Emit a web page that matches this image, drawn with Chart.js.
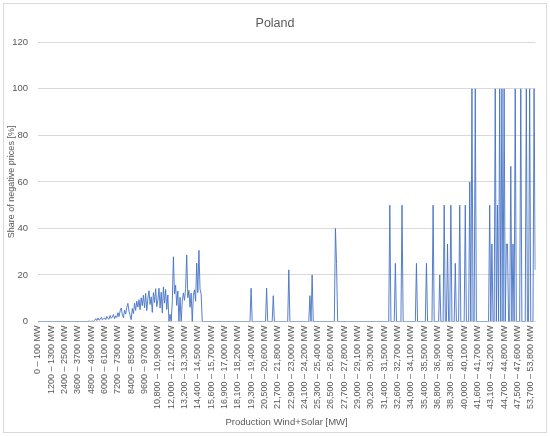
<!DOCTYPE html>
<html>
<head>
<meta charset="utf-8">
<script src="https://cdn.jsdelivr.net/npm/chart.js@4.4.1/dist/chart.umd.min.js"></script>
<style>
  html, body { margin: 0; padding: 0; background: #fff; }
  #wrap { width: 550px; height: 436px; position: relative; }
</style>
</head>
<body>
<div id="wrap"><canvas id="chart"></canvas></div>
<script>
// 100 MW production bins that appear in the data (start of first bin, start of last bin)
const binRuns = [
    [0, 16200], [16400, 28300], [28500, 33700], [34000, 35100], [35400, 36500],
    [36800, 37900], [38300, 39400], [40000, 41100], [41600, 42700], [43100, 44200],
    [44700, 45800], [47500, 48600], [53700, 54100]
];
const binSize = 100;
const tickEvery = 12;

// share of negative prices [%], one row per labelled group of 12 bins
const shareNegative = [
    0,0,0,0,0,0,0,0,0,0,0,0,
    0,0,0,0,0,0,0,0,0,0,0,0,
    0,0,0,0,0,0,0,0,0,0,0,0,
    0,0,0,0,0,0,0,0,0,0,0.2,0,
    0,0.3,0,0.5,1.2,0.4,1.5,0.6,0.9,1.8,0.7,1.1,
    1.6,0.8,2.2,1.3,1.0,2.6,1.4,1.9,3.0,1.2,2.4,1.7,
    3.8,2.1,4.6,5.8,2.9,1.6,4.9,3.2,6.1,7.8,4.4,2.6,
    0.8,5.6,3.4,7.9,4.8,8.7,6.2,9.4,5.1,10.2,6.8,11.3,
    5.9,12.1,4.7,9.8,13.2,7.3,10.6,3.9,12.4,8.2,14.1,6.4,
    9.2,14.3,5.8,12.6,3.7,14.9,7.9,13.8,5.2,11.4,0,3.1,
    0,8.4,27.8,11.9,15.6,6.9,13.1,0,10.4,0,8.8,12.3,
    9.1,14.2,28.6,10.2,13.4,6.1,12.2,0,11.3,13.6,8.7,25.1,
    12.4,30.6,13.8,11.9,0,0,0,0,0,0,0,0,
    0,0,0,0,0,0,0,0,0,0,0,0,
    0,0,0,0,0,0,0,0,0,0,0,0,
    0,0,0,0,0,0,0,0,0,0,0,0,
    14.3,0,0,0,0,0,0,0,0,0,0,0,
    0,0,14.3,0,0,0,0,0,11.1,0,0,0,
    0,0,0,0,0,0,0,0,0,0,22.2,0,
    0,0,0,0,0,0,0,0,0,0,0,0,
    0,0,0,0,0,11.1,0,20,0,0,0,0,
    0,0,0,0,0,0,0,0,0,0,0,0,
    0,0,0,0,40,25,0,0,0,0,0,0,
    0,0,0,0,0,0,0,0,0,0,0,0,
    0,0,0,0,0,0,0,0,0,0,0,0,
    0,0,0,0,0,0,0,0,0,0,0,0,
    0,0,0,0,0,50,0,0,0,0,25,0,
    0,0,0,0,50,0,0,0,0,0,0,0,
    0,0,0,0,0,25,0,0,0,0,0,0,
    0,0,25,0,0,0,0,0,50,0,0,0,
    0,0,20,0,0,0,50,0,0,33.3,0,0,
    50,0,0,0,25,0,0,0,50,0,0,0,
    0,50,0,0,0,60,0,100,0,0,100,0,
    0,0,0,0,0,0,0,0,0,0,0,50,
    0,33.3,0,0,100,0,50,0,100,0,100,0,
    100,0,33.3,33.3,0,0,66.7,0,33.3,0,100,0,
    0,0,0,100,0,0,0,0,100,0,0,100,
    0,0,0,100,22.2
];

const FONT = '"Liberation Sans", Arial, sans-serif';
const TEXT = '#595959';
const GRID = '#D9D9D9';

function fmt(n) {
    return n >= 10000 ? n.toLocaleString('en-US') : String(n);
}

const labels = [];
binRuns.forEach(run => {
    for (let s = run[0]; s <= run[1]; s += binSize) {
        labels.push(fmt(s) + ' \u2013 ' + fmt(s + binSize) + ' MW');
    }
});

const chartFrame = {
    id: 'chartFrame',
    beforeDraw(chart) {
        const ctx = chart.ctx;
        ctx.save();
        ctx.fillStyle = '#fff';
        ctx.fillRect(0, 0, chart.width, chart.height);
        ctx.strokeStyle = GRID;
        ctx.lineWidth = 1;
        ctx.strokeRect(3.5, 3.5, chart.width - 7, chart.height - 7);
        ctx.restore();
    }
};

new Chart(document.getElementById('chart'), {
    type: 'line',
    data: {
        labels: labels,
        datasets: [{
            label: 'Poland',
            data: shareNegative,
            borderColor: '#4472C4',
            borderWidth: 0.9,
            pointRadius: 0,
            tension: 0,
            fill: false
        }]
    },
    options: {
        responsive: true,
        maintainAspectRatio: false,
        animation: false,
        layout: { padding: { left: 12, right: 12, top: 0, bottom: 0 } },
        plugins: {
            legend: { display: false },
            tooltip: { enabled: false },
            title: {
                display: true,
                text: 'Poland',
                color: TEXT,
                font: { family: FONT, size: 12.5, weight: 'normal' },
                padding: { top: 16.5, bottom: 10.8 }
            }
        },
        scales: {
            x: {
                grid: { display: false, drawTicks: false },
                border: { color: GRID },
                ticks: {
                    autoSkip: false,
                    minRotation: 90,
                    maxRotation: 90,
                    padding: 4,
                    color: TEXT,
                    font: { family: FONT, size: 9 },
                    callback: function(val, i) {
                        return i % tickEvery === 0 ? this.getLabelForValue(val) : '';
                    }
                },
                title: {
                    display: true,
                    text: 'Production Wind+Solar [MW]',
                    color: TEXT,
                    font: { family: FONT, size: 9.5 },
                    padding: { top: 0, bottom: 8 }
                },
                afterFit: s => { s.height = 114.5; }
            },
            y: {
                min: 0,
                max: 120,
                grid: { color: GRID, drawTicks: false },
                border: { display: false },
                ticks: {
                    stepSize: 20,
                    padding: 10,
                    color: TEXT,
                    font: { family: FONT, size: 9.5 }
                },
                title: {
                    display: true,
                    text: 'Share of negative prices [%]',
                    color: TEXT,
                    font: { family: FONT, size: 9 },
                    padding: { top: -5.4, bottom: 0 }
                },
                afterFit: s => { s.width = 26; }
            }
        }
    },
    plugins: [chartFrame]
});
</script>
</body>
</html>
